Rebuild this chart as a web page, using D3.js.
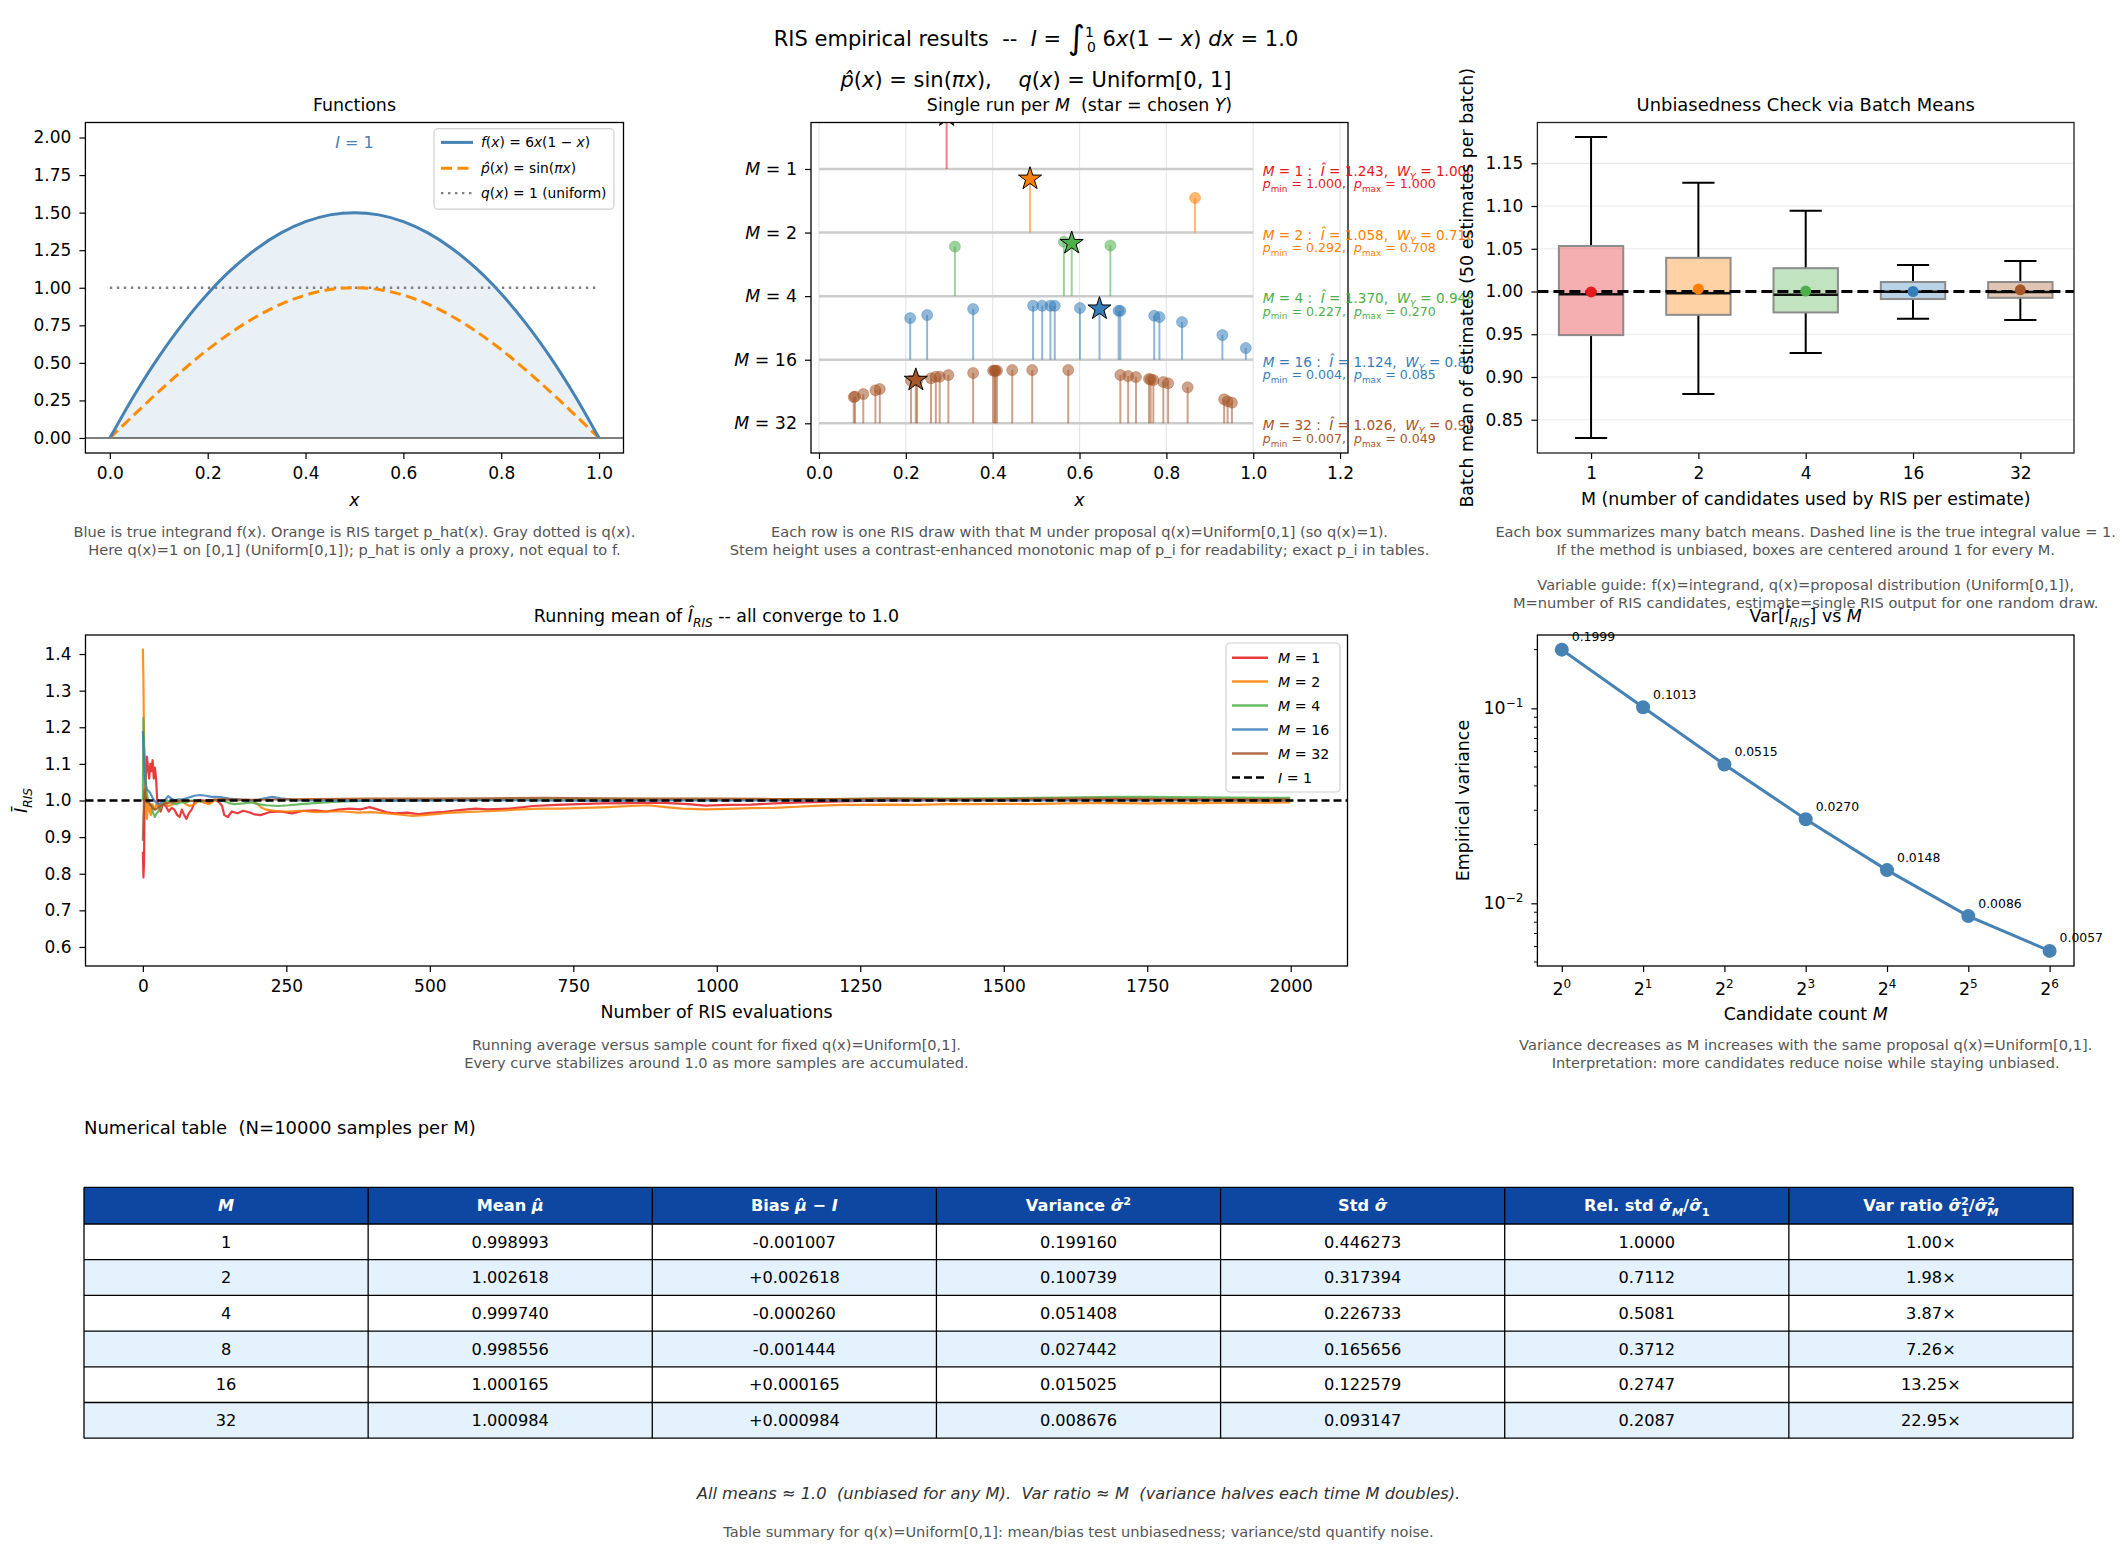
<!DOCTYPE html>
<html><head><meta charset="utf-8">
<script src="https://cdn.jsdelivr.net/npm/d3@7"></script>
<style>body{margin:0;background:#fff;} svg text{white-space:pre;}</style>
</head><body>
<script>
// ================= DATA =================
const setColors = ["#e41a1c", "#ff7f00", "#4daf4a", "#377eb8", "#a65628"];

// Panel 1: functions (values read at x = 0, 0.05, ..., 1)
const fnX = [0,0.05,0.1,0.15,0.2,0.25,0.3,0.35,0.4,0.45,0.5,0.55,0.6,0.65,0.7,0.75,0.8,0.85,0.9,0.95,1];
const fVals = [0,0.285,0.54,0.765,0.96,1.125,1.26,1.365,1.44,1.485,1.5,1.485,1.44,1.365,1.26,1.125,0.96,0.765,0.54,0.285,0];
const pHatVals = [0,0.156,0.309,0.454,0.588,0.707,0.809,0.891,0.951,0.988,1,0.988,0.951,0.891,0.809,0.707,0.588,0.454,0.309,0.156,0];
const qX = [0, 1];
const qVals = [1, 1];
const fnTicksX = [0, 0.2, 0.4, 0.6, 0.8, 1.0];
const fnTicksY = [0, 0.25, 0.5, 0.75, 1.0, 1.25, 1.5, 1.75, 2.0];

// Panel 2: single run per M (candidate x, stem height in row units)
const runMs = [1, 2, 4, 16, 32];
const candX_M1 = [0.294];
const candH_M1 = [0.84];
const candX_M2 = [0.486, 0.866];
const candH_M2 = [0.845, 0.545];
const candX_M4 = [0.313, 0.564, 0.582, 0.671];
const candH_M4 = [0.78, 0.855, 0.833, 0.797];
const candX_M16 = [0.210,0.249,0.355,0.493,0.514,0.533,0.543,0.601,0.646,0.690,0.694,0.772,0.784,0.836,0.929,0.983];
const candH_M16 = [0.655,0.703,0.797,0.849,0.849,0.849,0.849,0.813,0.802,0.77,0.77,0.692,0.671,0.593,0.388,0.184];
const candX_M32 = [0.080,0.083,0.102,0.130,0.140,0.212,0.223,0.226,0.258,0.269,0.278,0.298,0.355,0.401,0.405,0.406,0.410,0.445,0.491,0.574,0.694,0.712,0.730,0.760,0.764,0.770,0.793,0.804,0.849,0.933,0.941,0.951];
const candH_M32 = [0.413,0.42,0.461,0.519,0.539,0.670,0.681,0.675,0.708,0.733,0.733,0.759,0.791,0.827,0.827,0.827,0.827,0.838,0.838,0.838,0.759,0.744,0.728,0.697,0.69,0.681,0.649,0.629,0.566,0.377,0.346,0.324];
const chosenIdx = [0, 0, 2, 8, 6];
const runIhat = ["1.243", "1.058", "1.370", "1.124", "1.026"];
const runWY = ["1.000", "0.716", "0.948", "0.832", "0.913"];
const runPmin = ["1.000", "0.292", "0.227", "0.004", "0.007"];
const runPmax = ["1.000", "0.708", "0.270", "0.085", "0.049"];
const runTicksX = [0, 0.2, 0.4, 0.6, 0.8, 1.0, 1.2];

// Panel 3: batch-mean boxes
const boxM = ["1", "2", "4", "16", "32"];
const boxWhiskLo = [0.8287, 0.880, 0.9282, 0.968, 0.9667];
const boxQ1 = [0.949, 0.9727, 0.9755, 0.9912, 0.9926];
const boxMed = [0.9968, 0.998, 0.9963, 0.9998, 0.9995];
const boxQ3 = [1.0532, 1.0394, 1.0273, 1.0111, 1.0111];
const boxWhiskHi = [1.1806, 1.1273, 1.0944, 1.031, 1.0356];
const boxMean = [0.9995, 1.003, 1.0005, 1.0, 1.002];
const boxTicksY = [0.85, 0.90, 0.95, 1.00, 1.05, 1.10, 1.15];

// Panel 4: running means [n, mean]
const runMean_M1 = [[0,0.86],[1,0.79],[2,0.83],[3,1.0],[5,1.06],[7,1.12],[9,1.09],[11,1.06],[13,1.1],[15,1.08],[17,1.11],[19,1.06],[21,1.09],[23,1.06],[25,1.0],[28,0.98],[31,0.97],[35,0.99],[40,0.985],[45,0.97],[50,0.98],[55,0.975],[60,0.96],[64,0.955],[68,0.975],[72,0.96],[76,0.95],[80,0.965],[85,0.975],[90,0.995],[96,1.0],[105,1.0],[115,0.995],[125,1.003],[133,0.995],[138,0.985],[142,0.96],[148,0.955],[155,0.97],[165,0.965],[175,0.972],[185,0.968],[195,0.962],[205,0.96],[220,0.968],[240,0.97],[260,0.965],[280,0.972],[300,0.973],[320,0.97],[340,0.975],[360,0.978],[380,0.976],[395,0.982],[410,0.975],[425,0.968],[440,0.965],[460,0.967],[480,0.963],[500,0.966],[520,0.968],[540,0.972],[560,0.975],[580,0.978],[600,0.976],[640,0.978],[680,0.985],[720,0.988],[760,0.99],[800,0.992],[850,0.993],[900,0.994],[950,0.99],[980,0.986],[1020,0.988],[1060,0.989],[1100,0.992],[1150,0.995],[1200,0.997],[1250,0.999],[1300,1.0],[1400,1.001],[1500,1.001],[1600,1.002],[1700,1.003],[1800,1.002],[1900,1.001],[1999,1.0]];
const runMean_M2 = [[0,1.415],[1,1.33],[2,1.16],[3,1.08],[4,1.05],[5,1.02],[6,0.97],[7,0.95],[8,0.965],[10,1.0],[12,0.97],[14,0.96],[16,0.99],[18,0.985],[20,0.975],[24,0.99],[28,0.985],[32,0.99],[38,0.995],[45,0.985],[52,0.99],[60,0.995],[68,1.0],[75,0.99],[82,0.985],[90,0.99],[98,1.0],[105,0.995],[115,0.99],[125,1.0],[135,1.005],[150,1.003],[165,1.0],[180,1.002],[192,0.998],[200,0.99],[207,0.98],[215,0.975],[230,0.972],[250,0.97],[275,0.972],[300,0.968],[325,0.97],[350,0.97],[375,0.967],[400,0.968],[425,0.965],[450,0.961],[470,0.958],[490,0.96],[510,0.963],[530,0.966],[560,0.968],[590,0.97],[620,0.972],[650,0.975],[690,0.978],[730,0.978],[770,0.98],[810,0.982],[850,0.985],[880,0.987],[910,0.982],[940,0.978],[980,0.976],[1020,0.977],[1060,0.979],[1100,0.98],[1140,0.983],[1180,0.986],[1220,0.988],[1260,0.988],[1300,0.989],[1350,0.988],[1400,0.99],[1450,0.99],[1500,0.991],[1550,0.99],[1600,0.992],[1650,0.993],[1700,0.993],[1750,0.992],[1800,0.993],[1850,0.993],[1900,0.994],[1950,0.994],[1999,0.995]];
const runMean_M4 = [[0,1.0],[1,1.225],[2,1.15],[3,1.12],[5,1.05],[7,1.02],[9,1.0],[12,0.99],[15,0.985],[18,0.965],[21,0.955],[24,0.965],[27,0.97],[30,0.98],[35,0.99],[42,1.0],[50,0.995],[58,0.99],[66,0.995],[75,0.995],[85,1.0],[100,0.997],[115,1.0],[130,1.002],[142,0.998],[150,0.993],[160,0.99],[175,0.992],[190,0.995],[200,0.99],[215,0.987],[235,0.985],[255,0.987],[275,0.99],[300,0.993],[330,0.996],[370,0.998],[400,1.0],[500,1.001],[600,1.002],[700,1.003],[800,1.003],[900,1.002],[1000,1.002],[1100,1.003],[1200,1.004],[1300,1.005],[1400,1.005],[1500,1.006],[1600,1.008],[1700,1.01],[1750,1.01],[1800,1.009],[1900,1.008],[1999,1.007]];
const runMean_M16 = [[0,1.19],[1,1.15],[2,1.11],[3,1.07],[5,1.04],[7,1.03],[10,1.026],[13,1.02],[16,1.01],[20,1.0],[24,0.993],[28,0.99],[32,0.995],[38,1.0],[44,1.012],[50,1.005],[56,1.0],[62,1.003],[70,1.003],[80,1.008],[90,1.013],[100,1.015],[110,1.013],[120,1.01],[130,1.01],[140,1.008],[150,1.005],[165,1.003],[180,1.0],[195,1.0],[210,1.005],[225,1.01],[240,1.006],[255,1.003],[270,1.0],[300,1.0],[400,0.999],[500,1.0],[600,1.001],[700,1.0],[800,0.999],[900,1.0],[1000,1.0],[1200,1.0],[1400,1.001],[1600,1.0],[1800,1.0],[1999,1.0]];
const runMean_M32 = [[0,0.89],[1,0.95],[2,1.0],[3,1.03],[5,1.01],[7,0.995],[9,1.0],[12,0.99],[15,0.985],[18,0.978],[22,0.975],[26,0.98],[30,0.985],[36,0.99],[42,0.993],[48,0.995],[55,0.997],[65,1.0],[75,1.0],[90,0.998],[110,1.0],[125,1.002],[150,1.003],[200,1.002],[250,1.003],[300,1.004],[400,1.005],[500,1.005],[600,1.006],[700,1.007],[800,1.006],[900,1.005],[1000,1.005],[1100,1.004],[1200,1.004],[1300,1.005],[1400,1.004],[1500,1.004],[1600,1.005],[1700,1.005],[1800,1.004],[1900,1.003],[1999,1.003]];
const runMeanTicksX = [0, 250, 500, 750, 1000, 1250, 1500, 1750, 2000];
const runMeanTicksY = [0.6, 0.7, 0.8, 0.9, 1.0, 1.1, 1.2, 1.3, 1.4];

// Panel 5: variance vs M
const varM = [1, 2, 4, 8, 16, 32, 64];
const varVals = [0.1999, 0.1013, 0.0515, 0.0270, 0.0148, 0.0086, 0.0057];
const varLabels = ["0.1999", "0.1013", "0.0515", "0.0270", "0.0148", "0.0086", "0.0057"];

// Table
const tableM = ["1", "2", "4", "8", "16", "32"];
const tableMean = ["0.998993", "1.002618", "0.999740", "0.998556", "1.000165", "1.000984"];
const tableBias = ["-0.001007", "+0.002618", "-0.000260", "-0.001444", "+0.000165", "+0.000984"];
const tableVar = ["0.199160", "0.100739", "0.051408", "0.027442", "0.015025", "0.008676"];
const tableStd = ["0.446273", "0.317394", "0.226733", "0.165656", "0.122579", "0.093147"];
const tableRel = ["1.0000", "0.7112", "0.5081", "0.3712", "0.2747", "0.2087"];
const tableRatio = ["1.00×", "1.98×", "3.87×", "7.26×", "13.25×", "22.95×"];

// ================= HELPERS =================
const FONT = '"DejaVu Sans", sans-serif';
const CAP = 14.6;
const svg = d3.select("body").append("svg").attr("width", 2128).attr("height", 1551);
svg.append("rect").attr("width", 2128).attr("height", 1551).attr("fill", "#fff");
const defs = svg.append("defs");

function rich(parent, x, y, size, segs, o = {}) {
  const t = parent.append("text").attr("x", x).attr("y", y)
    .attr("font-size", size).attr("font-family", FONT)
    .attr("fill", o.fill || "#000").style("white-space", "pre");
  if (o.anchor) t.attr("text-anchor", o.anchor);
  if (o.weight) t.attr("font-weight", o.weight);
  if (o.style) t.attr("font-style", o.style);
  if (o.transform) t.attr("transform", o.transform);
  let off = 0;
  for (let s of segs) {
    if (typeof s === "string") s = { t: s };
    const target = s.sub ? size * 0.3 : s.sup ? -size * 0.42 : (s.shift || 0);
    const ts = t.append("tspan").text(s.t);
    if (target !== off) ts.attr("dy", target - off);
    off = target;
    if (s.dx) ts.attr("dx", s.dx);
    const fs = s.fs ? s.fs : (s.sub || s.sup) ? size * 0.7 : null;
    if (fs) ts.attr("font-size", fs);
    if (s.i) ts.attr("font-style", "italic");
    if (s.n) ts.attr("font-style", "normal");
  }
  return t;
}
function spine(p, color = "#000") {
  svg.append("rect").attr("x", p.l).attr("y", p.t).attr("width", p.r - p.l).attr("height", p.b - p.t)
    .attr("fill", "none").attr("stroke", color).attr("stroke-width", 1.3);
}
function styleAxis(g, fs) {
  g.attr("font-size", fs).attr("font-family", FONT);
  g.select(".domain").remove();
  g.selectAll(".tick line").attr("stroke", "#000").attr("stroke-width", 1.2);
  g.selectAll(".tick text").attr("fill", "#000");
}
function axBottom(p, scale, ticks, fmt, fs = 17) {
  const g = svg.append("g").attr("transform", `translate(0,${p.b})`)
    .call(d3.axisBottom(scale).tickValues(ticks).tickFormat(fmt).tickSize(6).tickPadding(8));
  styleAxis(g, fs); return g;
}
function axLeft(p, scale, ticks, fmt, fs = 17) {
  const g = svg.append("g").attr("transform", `translate(${p.l},0)`)
    .call(d3.axisLeft(scale).tickValues(ticks).tickFormat(fmt).tickSize(6).tickPadding(8));
  styleAxis(g, fs); return g;
}
function clip(id, p) {
  defs.append("clipPath").attr("id", id).append("rect")
    .attr("x", p.l).attr("y", p.t).attr("width", p.r - p.l).attr("height", p.b - p.t);
  return svg.append("g").attr("clip-path", `url(#${id})`);
}
function caption(cx, y, lines) {
  lines.forEach((l, i) => svg.append("text").attr("x", cx).attr("y", y + i * 17.5)
    .attr("text-anchor", "middle").attr("font-size", CAP).attr("font-family", FONT)
    .attr("fill", "#555").text(l));
}
function title(cx, y, segs, size = 17.4) { return rich(svg, cx, y, size, segs, { anchor: "middle" }); }

// ================= SUPTITLE =================
rich(svg, 1036, 46, 21, ["RIS empirical results  --  ", { t: "I", i: 1 }, " = ",
  { t: "∫", fs: 33, shift: 3 }, { t: "1", sup: 1, fs: 14 }, { t: "0", sub: 1, fs: 14, dx: -7, shift: 12 },
  { t: " 6", shift: 0 }, { t: "x", i: 1 }, "(1 − ", { t: "x", i: 1 }, ") ", { t: "dx", i: 1 }, " = 1.0"], { anchor: "middle" });
rich(svg, 1036, 87, 21, [{ t: "p\u0302", i: 1 }, "(", { t: "x", i: 1 }, ") = sin(", { t: "πx", i: 1 }, "),    ",
  { t: "q", i: 1 }, "(", { t: "x", i: 1 }, ") = Uniform[0, 1]"], { anchor: "middle" });

// ================= PANEL 1: Functions =================
{
  const p = { l: 85.4, r: 623.5, t: 122.5, b: 453 };
  const x = d3.scaleLinear([-0.05, 1.05], [p.l, p.r]);
  const y = d3.scaleLinear([-0.1, 2.1], [p.b, p.t]);
  const g = clip("c1", p);
  const fData = fnX.map((v, i) => [v, fVals[i]]);
  const pData = fnX.map((v, i) => [v, pHatVals[i]]);
  g.append("path").datum(fData).attr("d", d3.area().x(d => x(d[0])).y0(y(0)).y1(d => y(d[1])).curve(d3.curveCatmullRom))
    .attr("fill", "#4682b4").attr("fill-opacity", 0.12);
  g.append("line").attr("x1", p.l).attr("x2", p.r).attr("y1", y(0)).attr("y2", y(0)).attr("stroke", "#000").attr("stroke-width", 1.2);
  g.append("path").datum(qX.map((v, i) => [v, qVals[i]])).attr("d", d3.line().x(d => x(d[0])).y(d => y(d[1])))
    .attr("fill", "none").attr("stroke", "#808080").attr("stroke-width", 2.4).attr("stroke-dasharray", "2.4,4.6");
  g.append("path").datum(pData).attr("d", d3.line().x(d => x(d[0])).y(d => y(d[1])).curve(d3.curveCatmullRom))
    .attr("fill", "none").attr("stroke", "#ff8c00").attr("stroke-width", 3).attr("stroke-dasharray", "11,5.5");
  g.append("path").datum(fData).attr("d", d3.line().x(d => x(d[0])).y(d => y(d[1])).curve(d3.curveCatmullRom))
    .attr("fill", "none").attr("stroke", "#4682b4").attr("stroke-width", 3);
  rich(svg, x(0.5), y(1.968) + 6, 16, [{ t: "I", i: 1 }, " = 1"], { anchor: "middle", fill: "#4682b4" });
  // legend
  const lg = svg.append("g");
  lg.append("rect").attr("x", 434).attr("y", 128.7).attr("width", 180).attr("height", 80.5).attr("rx", 4)
    .attr("fill", "#fff").attr("fill-opacity", 0.8).attr("stroke", "#d0d0d0").attr("stroke-width", 1.2);
  const rows = [142.4, 168.3, 193.1];
  lg.append("line").attr("x1", 441).attr("x2", 473).attr("y1", rows[0]).attr("y2", rows[0]).attr("stroke", "#4682b4").attr("stroke-width", 3);
  lg.append("line").attr("x1", 441).attr("x2", 473).attr("y1", rows[1]).attr("y2", rows[1]).attr("stroke", "#ff8c00").attr("stroke-width", 3).attr("stroke-dasharray", "11,5.5");
  lg.append("line").attr("x1", 441).attr("x2", 473).attr("y1", rows[2]).attr("y2", rows[2]).attr("stroke", "#808080").attr("stroke-width", 2.4).attr("stroke-dasharray", "2.4,4.6");
  rich(lg, 481, rows[0] + 5, 13.8, [{ t: "f", i: 1 }, "(", { t: "x", i: 1 }, ") = 6", { t: "x", i: 1 }, "(1 − ", { t: "x", i: 1 }, ")"]);
  rich(lg, 481, rows[1] + 5, 13.8, [{ t: "p\u0302", i: 1 }, "(", { t: "x", i: 1 }, ") = sin(", { t: "πx", i: 1 }, ")"]);
  rich(lg, 481, rows[2] + 5, 13.8, [{ t: "q", i: 1 }, "(", { t: "x", i: 1 }, ") = 1 (uniform)"]);
  axBottom(p, x, fnTicksX, d3.format(".1f"));
  axLeft(p, y, fnTicksY, d3.format(".2f"));
  spine(p);
  title((p.l + p.r) / 2, 111, ["Functions"]);
  rich(svg, (p.l + p.r) / 2, 506, 17.4, [{ t: "x", i: 1 }], { anchor: "middle" });
  caption((p.l + p.r) / 2, 537, ["Blue is true integrand f(x). Orange is RIS target p_hat(x). Gray dotted is q(x).",
    "Here q(x)=1 on [0,1] (Uniform[0,1]); p_hat is only a proxy, not equal to f."]);
}

// ================= PANEL 2: single run =================
{
  const p = { l: 811, r: 1348, t: 122.5, b: 453 };
  const x = d3.scaleLinear([-0.0184, 1.2183], [p.l, p.r]);
  const y = d3.scaleLinear([-0.467, 4.731], [p.b, p.t]);
  const candX = [candX_M1, candX_M2, candX_M4, candX_M16, candX_M32];
  const candH = [candH_M1, candH_M2, candH_M4, candH_M16, candH_M32];
  const g = clip("c2", p);
  runTicksX.forEach(t => g.append("line").attr("x1", x(t)).attr("x2", x(t)).attr("y1", p.t).attr("y2", p.b)
    .attr("stroke", "#e6e6e6").attr("stroke-width", 1.2));
  const star = d3.symbol().type(d3.symbolStar).size(165);
  runMs.forEach((m, r) => {
    const base = 4 - r;
    const c = setColors[r];
    g.append("line").attr("x1", x(0)).attr("x2", x(1)).attr("y1", y(base)).attr("y2", y(base))
      .attr("stroke", "#cccccc").attr("stroke-width", 2.5);
    candX[r].forEach((cx, j) => {
      g.append("line").attr("x1", x(cx)).attr("x2", x(cx)).attr("y1", y(base)).attr("y2", y(base + candH[r][j]))
        .attr("stroke", c).attr("stroke-opacity", 0.55).attr("stroke-width", 2);
      if (r > 0) g.append("circle").attr("cx", x(cx)).attr("cy", y(base + candH[r][j])).attr("r", 5.5)
        .attr("fill", c).attr("fill-opacity", 0.55).attr("stroke", c).attr("stroke-opacity", 0.4);
    });
    const k = chosenIdx[r];
    g.append("path").attr("d", star).attr("transform", `translate(${x(candX[r][k])},${y(base + candH[r][k])})`)
      .attr("fill", c).attr("stroke", "#000").attr("stroke-width", 1);
  });
  axBottom(p, x, runTicksX, d3.format(".1f"));
  axLeft(p, y, [4, 3, 2, 1, 0], () => "");
  runMs.forEach((m, r) => rich(svg, p.l - 14, y(4 - r) + 6, 17.4, [{ t: "M", i: 1 }, " = " + m], { anchor: "end" }));
  spine(p);
  // annotations (cut off where the neighbouring panel's label sits)
  defs.append("clipPath").attr("id", "cAnn").append("rect").attr("x", 1240).attr("y", 100).attr("width", 232).attr("height", 400);
  const ag = svg.append("g").attr("clip-path", "url(#cAnn)");
  runMs.forEach((m, r) => {
    const yy = y(4 - r), c = setColors[r], xx = x(1.022);
    rich(ag, xx, yy + 7, 13.6, [{ t: "M", i: 1 }, " = " + m + " :  ", { t: "Î", i: 1 }, " = " + runIhat[r] + ",  ",
      { t: "W", i: 1 }, { t: "Y", i: 1, sub: 1 }, " = " + runWY[r]], { fill: c });
    rich(ag, xx, yy + 19.5, 12.6, [{ t: "p", i: 1 }, { t: "min", sub: 1 }, " = " + runPmin[r] + ",  ",
      { t: "p", i: 1 }, { t: "max", sub: 1 }, " = " + runPmax[r]], { fill: c });
  });
  title((p.l + p.r) / 2, 111, ["Single run per ", { t: "M", i: 1 }, "  (star = chosen ", { t: "Y", i: 1 }, ")"]);
  rich(svg, (p.l + p.r) / 2, 506, 17.4, [{ t: "x", i: 1 }], { anchor: "middle" });
  caption((p.l + p.r) / 2, 537, ["Each row is one RIS draw with that M under proposal q(x)=Uniform[0,1] (so q(x)=1).",
    "Stem height uses a contrast-enhanced monotonic map of p_i for readability; exact p_i in tables."]);
}

// ================= PANEL 3: boxes =================
{
  const p = { l: 1537.4, r: 2074, t: 122.5, b: 453 };
  const x = d3.scaleLinear([0.5, 5.5], [p.l, p.r]);
  const y = d3.scaleLinear([0.8111, 1.1977], [p.b, p.t]);
  const g = clip("c3", p);
  boxTicksY.forEach(t => g.append("line").attr("x1", p.l).attr("x2", p.r).attr("y1", y(t)).attr("y2", y(t))
    .attr("stroke", "#ebebeb").attr("stroke-width", 1.2));
  boxM.forEach((m, i) => {
    const cx = x(i + 1), c = setColors[i];
    g.append("line").attr("x1", cx).attr("x2", cx).attr("y1", y(boxWhiskLo[i])).attr("y2", y(boxQ1[i])).attr("stroke", "#000").attr("stroke-width", 2);
    g.append("line").attr("x1", cx).attr("x2", cx).attr("y1", y(boxQ3[i])).attr("y2", y(boxWhiskHi[i])).attr("stroke", "#000").attr("stroke-width", 2);
    [boxWhiskLo[i], boxWhiskHi[i]].forEach(v => g.append("line").attr("x1", x(i + 1 - 0.15)).attr("x2", x(i + 1 + 0.15))
      .attr("y1", y(v)).attr("y2", y(v)).attr("stroke", "#000").attr("stroke-width", 2));
    g.append("rect").attr("x", x(i + 1 - 0.3)).attr("width", x(i + 1.3) - x(i + 0.7))
      .attr("y", y(boxQ3[i])).attr("height", y(boxQ1[i]) - y(boxQ3[i]))
      .attr("fill", c).attr("fill-opacity", 0.35).attr("stroke", "#8c8c8c").attr("stroke-width", 2);
    g.append("line").attr("x1", x(i + 1 - 0.3)).attr("x2", x(i + 1 + 0.3)).attr("y1", y(boxMed[i])).attr("y2", y(boxMed[i]))
      .attr("stroke", "#111").attr("stroke-width", 2.5);
  });
  g.append("line").attr("x1", p.l).attr("x2", p.r).attr("y1", y(1)).attr("y2", y(1))
    .attr("stroke", "#000").attr("stroke-width", 3).attr("stroke-dasharray", "11,5");
  boxM.forEach((m, i) => g.append("circle").attr("cx", x(i + 1)).attr("cy", y(boxMean[i])).attr("r", 5.5).attr("fill", setColors[i]));
  axBottom(p, x, [1, 2, 3, 4, 5], (d) => boxM[d - 1]);
  axLeft(p, y, boxTicksY, d3.format(".2f"));
  spine(p, "#222");
  title((p.l + p.r) / 2, 111, ["Unbiasedness Check via Batch Means"], 17.9);
  rich(svg, (p.l + p.r) / 2, 505, 17.4, ["M (number of candidates used by RIS per estimate)"], { anchor: "middle" });
  rich(svg, 1472.5, (p.t + p.b) / 2, 17.4, ["Batch mean of estimates (50 estimates per batch)"],
    { anchor: "middle", transform: `rotate(-90,1472.5,${(p.t + p.b) / 2})` });
  caption((p.l + p.r) / 2, 537, ["Each box summarizes many batch means. Dashed line is the true integral value = 1.",
    "If the method is unbiased, boxes are centered around 1 for every M."]);
  caption((p.l + p.r) / 2, 590, ["Variable guide: f(x)=integrand, q(x)=proposal distribution (Uniform[0,1]),",
    "M=number of RIS candidates, estimate=single RIS output for one random draw."]);
}

// ================= PANEL 4: running mean =================
{
  const p = { l: 85.5, r: 1347.5, t: 635, b: 966 };
  const x = d3.scaleLinear([-99.95, 2098.95], [p.l, p.r]);
  const y = d3.scaleLinear([0.548, 1.452], [p.b, p.t]);
  const g = clip("c4", p);
  const series = [runMean_M1, runMean_M2, runMean_M4, runMean_M16, runMean_M32];
  const line = d3.line().x(d => x(d[0])).y(d => y(d[1]));
  series.forEach((s, i) => g.append("path").datum(s).attr("d", line).attr("fill", "none")
    .attr("stroke", setColors[i]).attr("stroke-width", 2.2).attr("stroke-opacity", 0.85).attr("stroke-linejoin", "round"));
  g.append("line").attr("x1", p.l).attr("x2", p.r).attr("y1", y(1)).attr("y2", y(1))
    .attr("stroke", "#000").attr("stroke-width", 2.6).attr("stroke-dasharray", "8,4");
  axBottom(p, x, runMeanTicksX, d3.format("d"));
  axLeft(p, y, runMeanTicksY, d3.format(".1f"));
  spine(p);
  // legend
  const lg = svg.append("g");
  lg.append("rect").attr("x", 1226).attr("y", 643).attr("width", 114).attr("height", 149).attr("rx", 4)
    .attr("fill", "#fff").attr("fill-opacity", 0.8).attr("stroke", "#d0d0d0").attr("stroke-width", 1.2);
  const ly = [657.7, 681.5, 705.5, 729.5, 753.5, 777.5];
  runMs.forEach((m, i) => {
    lg.append("line").attr("x1", 1232).attr("x2", 1268).attr("y1", ly[i]).attr("y2", ly[i]).attr("stroke", setColors[i]).attr("stroke-width", 2.6).attr("stroke-opacity", 0.85);
    rich(lg, 1278, ly[i] + 5, 14.2, [{ t: "M", i: 1 }, " = " + m]);
  });
  lg.append("line").attr("x1", 1232).attr("x2", 1268).attr("y1", ly[5]).attr("y2", ly[5]).attr("stroke", "#000").attr("stroke-width", 2.6).attr("stroke-dasharray", "8,4");
  rich(lg, 1278, ly[5] + 5, 14.2, [{ t: "I", i: 1 }, " = 1"]);
  title((p.l + p.r) / 2, 622, ["Running mean of ", { t: "Î", i: 1 }, { t: "RIS", i: 1, sub: 1 }, " -- all converge to 1.0"]);
  rich(svg, (p.l + p.r) / 2, 1018, 17.4, ["Number of RIS evaluations"], { anchor: "middle" });
  rich(svg, 27, (p.t + p.b) / 2, 17.4, [{ t: "I\u0304", i: 1 }, { t: "RIS", i: 1, sub: 1 }],
    { anchor: "middle", transform: `rotate(-90,27,${(p.t + p.b) / 2})` });
  caption((p.l + p.r) / 2, 1050, ["Running average versus sample count for fixed q(x)=Uniform[0,1].",
    "Every curve stabilizes around 1.0 as more samples are accumulated."]);
}

// ================= PANEL 5: variance =================
{
  const p = { l: 1537.4, r: 2074, t: 635, b: 966 };
  const x = d3.scaleLog().base(2).domain([Math.pow(2, -0.3), Math.pow(2, 6.3)]).range([p.l, p.r]);
  const y = d3.scaleLog().domain([Math.pow(10, -2.3215), Math.pow(10, -0.624)]).range([p.b, p.t]);
  const pts = varM.map((m, i) => [m, varVals[i]]);
  svg.append("path").datum(pts).attr("d", d3.line().x(d => x(d[0])).y(d => y(d[1])))
    .attr("fill", "none").attr("stroke", "#4682b4").attr("stroke-width", 3);
  pts.forEach((d, i) => {
    svg.append("circle").attr("cx", x(d[0])).attr("cy", y(d[1])).attr("r", 7).attr("fill", "#4682b4");
    svg.append("text").attr("x", x(d[0]) + 10).attr("y", y(d[1]) - 8.5).attr("font-size", 12.4)
      .attr("font-family", FONT).text(varLabels[i]);
  });
  axBottom(p, x, varM, () => "");
  varM.forEach((m, i) => rich(svg, x(m), 995, 17.4, ["2", { t: String(i), sup: 1, fs: 12 }], { anchor: "middle" }));
  axLeft(p, y, [0.01, 0.1], () => "");
  const minor = [0.005, 0.006, 0.007, 0.008, 0.009, 0.02, 0.03, 0.04, 0.05, 0.06, 0.07, 0.08, 0.09, 0.2];
  minor.forEach(v => svg.append("line").attr("x1", p.l - 3.5).attr("x2", p.l).attr("y1", y(v)).attr("y2", y(v))
    .attr("stroke", "#000").attr("stroke-width", 1));
  [[0.1, "−1"], [0.01, "−2"]].forEach(([v, e]) => rich(svg, p.l - 14, y(v) + 6, 17.4, ["10", { t: e, sup: 1, fs: 12 }], { anchor: "end" }));
  spine(p);
  title((p.l + p.r) / 2, 622, ["Var[", { t: "Î", i: 1 }, { t: "RIS", i: 1, sub: 1 }, "] vs ", { t: "M", i: 1 }]);
  rich(svg, (p.l + p.r) / 2, 1020, 17.4, ["Candidate count ", { t: "M", i: 1 }], { anchor: "middle" });
  rich(svg, 1469, (p.t + p.b) / 2, 17.4, ["Empirical variance"],
    { anchor: "middle", transform: `rotate(-90,1469,${(p.t + p.b) / 2})` });
  caption((p.l + p.r) / 2, 1050, ["Variance decreases as M increases with the same proposal q(x)=Uniform[0,1].",
    "Interpretation: more candidates reduce noise while staying unbiased."]);
}

// ================= TABLE =================
{
  const L = 84, R = 2073, T = 1187.3, hH = 36.7, rH = 35.7, TF = 16.2;
  const cols = d3.scaleBand().domain(d3.range(7)).range([L, R]);
  rich(svg, L, 1134, 18, ["Numerical table  (N=10000 samples per M)"]);
  const header = [
    [{ t: "M", i: 1 }],
    ["Mean ", { t: "μ\u0302", i: 1 }],
    ["Bias ", { t: "μ\u0302", i: 1 }, " − ", { t: "I", i: 1 }],
    ["Variance ", { t: "σ\u0302", i: 1 }, { t: "2", sup: 1 }],
    ["Std ", { t: "σ\u0302", i: 1 }],
    ["Rel. std ", { t: "σ\u0302", i: 1 }, { t: "M", i: 1, sub: 1 }, { t: "/", shift: 0 }, { t: "σ\u0302", i: 1 }, { t: "1", sub: 1 }],
    ["Var ratio ", { t: "σ\u0302", i: 1 }, { t: "2", sup: 1 }, { t: "1", sub: 1, dx: -8 }, { t: "/", shift: 0 }, { t: "σ\u0302", i: 1 }, { t: "2", sup: 1 }, { t: "M", i: 1, sub: 1, dx: -8 }]
  ];
  const rowsData = tableM.map((m, i) => [m, tableMean[i], tableBias[i], tableVar[i], tableStd[i], tableRel[i], tableRatio[i]]);
  svg.append("rect").attr("x", L).attr("y", T).attr("width", R - L).attr("height", hH).attr("fill", "#0d47a1");
  rowsData.forEach((r, i) => {
    const yy = T + hH + i * rH;
    svg.append("rect").attr("x", L).attr("y", yy).attr("width", R - L).attr("height", rH)
      .attr("fill", i % 2 === 1 ? "#e3f2fd" : "#ffffff");
    r.forEach((v, j) => svg.append("text").attr("x", cols(j) + cols.bandwidth() / 2).attr("y", yy + rH / 2 + 5.8)
      .attr("text-anchor", "middle").attr("font-size", TF).attr("font-family", FONT).attr("fill", "#000").text(v));
  });
  header.forEach((h, j) => rich(svg, cols(j) + cols.bandwidth() / 2, T + hH / 2 + 5.8, TF, h,
    { anchor: "middle", fill: "#fff", weight: "bold" }));
  const B = T + hH + 6 * rH;
  for (let k = 0; k <= 7; k++) {
    const yy = k === 0 ? T : T + hH + (k - 1) * rH;
    svg.append("line").attr("x1", L).attr("x2", R).attr("y1", yy).attr("y2", yy).attr("stroke", "#000").attr("stroke-width", 1.3);
  }
  for (let j = 0; j <= 7; j++) {
    const xx = j === 7 ? R : cols(j);
    svg.append("line").attr("x1", xx).attr("x2", xx).attr("y1", T).attr("y2", B).attr("stroke", "#000").attr("stroke-width", 1.3);
  }
  rich(svg, (L + R) / 2, 1499, 16.3, ["All means ≈ 1.0  (unbiased for any ", "M", ").  Var ratio ≈ ", "M", "  (variance halves each time ", "M", " doubles)."],
    { anchor: "middle", style: "italic", fill: "#333" });
  svg.append("text").attr("x", (L + R) / 2).attr("y", 1537).attr("text-anchor", "middle").attr("font-size", CAP)
    .attr("font-family", FONT).attr("fill", "#555")
    .text("Table summary for q(x)=Uniform[0,1]: mean/bias test unbiasedness; variance/std quantify noise.");
}
</script>
</body></html>
